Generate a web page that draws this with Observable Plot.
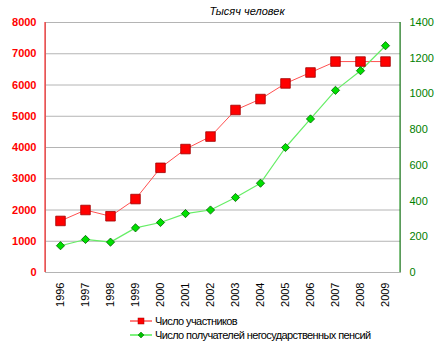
<!DOCTYPE html>
<html><head><meta charset="utf-8">
<script src="https://cdn.jsdelivr.net/npm/d3@7"></script>
<script src="https://cdn.jsdelivr.net/npm/@observablehq/plot@0.6"></script>
<style>
body{margin:0;background:#fff;font-family:"Liberation Sans",Arial,sans-serif;}
#wrap{position:relative;width:444px;height:352px;overflow:hidden;}
#title{position:absolute;left:0;width:494px;top:5px;text-align:center;font-style:italic;font-size:11px;color:#000;}
#chart{position:absolute;left:0;top:0;}
#legend{position:absolute;left:130px;top:314px;font-size:11px;color:#000;letter-spacing:-0.6px;}
.li{height:14px;display:flex;align-items:center;}
.li svg{margin-right:3px;}
</style></head><body>
<div id="wrap">
<div id="chart"></div>
<div id="title">Тысяч человек</div>
<div id="legend"></div>
</div>
<script>
const years = ["1996","1997","1998","1999","2000","2001","2002","2003","2004","2005","2006","2007","2008","2009"];
const participants = [1650,2000,1800,2350,3350,3950,4350,5200,5550,6050,6400,6750,6750,6750];
const recipients = [150,185,170,250,280,330,350,420,500,700,860,1020,1130,1270];
const leftTicks = [0,1000,2000,3000,4000,5000,6000,7000,8000];
const rightTicks = [0,200,400,600,800,1000,1200,1400];
const seriesNames = ["Число участников","Число получателей  негосударственных пенсий"];

const k = 8000/1400;
const red = years.map((y,i)=>({year:y, v:participants[i]}));
const green = years.map((y,i)=>({year:y, v:recipients[i]*k}));

const chart = Plot.plot({
  width:444, height:310,
  marginLeft:45, marginRight:44, marginTop:22, marginBottom:38,
  style:{fontFamily:"Liberation Sans, Arial, sans-serif", fontSize:"11px", background:"transparent"},
  x:{type:"point", domain:years, padding:0.5},
  y:{domain:[0,8000]},
  marks:[
    Plot.ruleY(leftTicks,{stroke:"#b4b4b4", strokeWidth:1}),
    Plot.frame({stroke:"#b4b4b4"}),
    Plot.axisX({tickRotate:-90, tickSize:0, tickPadding:10, label:null, fill:"#000", fontSize:11}),
    Plot.axisY({ticks:leftTicks, tickSize:0, tickPadding:9, label:null, fill:"#ff0000", fontWeight:"bold", fontSize:11, tickFormat:d=>String(d)}),
    Plot.axisY({anchor:"right", ticks:rightTicks.map(v=>v*k), tickSize:0, tickPadding:9, label:null, fill:"#008000", fontSize:11, tickFormat:d=>String(Math.round(d/k))}),
    Plot.line(red,{x:"year", y:"v", stroke:"#ff5050", strokeWidth:1}),
    Plot.line(green,{x:"year", y:"v", stroke:"#66ee66", strokeWidth:1.2}),
    Plot.dot(red,{x:"year", y:"v", symbol:"square", r:5.4, fill:"#ff0000", stroke:"#a00000", strokeWidth:0.8}),
    Plot.dot(green,{x:"year", y:"v", symbol:"diamond2", r:3.7, fill:"#00e000", stroke:"#006000", strokeWidth:0.8})
  ]
});
document.getElementById("chart").appendChild(chart);
const svg = d3.select(chart);
svg.append("line").attr("x1",45).attr("x2",45).attr("y1",22).attr("y2",272).attr("stroke","#ff0000");
svg.append("line").attr("x1",400).attr("x2",400).attr("y1",22).attr("y2",272).attr("stroke","#008000");

const leg = document.getElementById("legend");
leg.innerHTML = `
<div class="li"><svg width="22" height="10"><line x1="0" x2="22" y1="5" y2="5" stroke="#ff0000"/><rect x="8" y="2" width="6" height="6" fill="#ff0000" stroke="#a00000" stroke-width="0.5"/></svg>${seriesNames[0]}</div>
<div class="li"><svg width="22" height="10"><line x1="0" x2="22" y1="5" y2="5" stroke="#55ee55" stroke-width="1.5"/><path d="M11,2 L14,5 L11,8 L8,5Z" fill="#00c000" stroke="#006000" stroke-width="0.5"/></svg>${seriesNames[1]}</div>`;
</script>
</body></html>
